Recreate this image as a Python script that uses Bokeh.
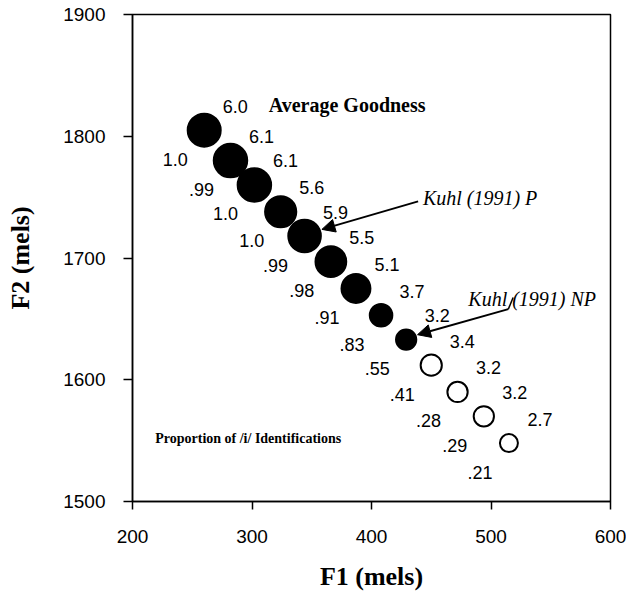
from bokeh.plotting import figure
from bokeh.models import Label, Arrow, NormalHead, FixedTicker, Range1d, ColumnDataSource
from bokeh.core.properties import value
from bokeh.embed import file_html
from bokeh.resources import INLINE

# ---- data ----
f1_mels = [260, 282, 302, 324, 344, 366, 387, 408, 429, 450, 472, 494, 515]
f2_mels = [1805, 1780, 1760, 1738, 1718, 1697, 1675, 1653, 1633, 1612, 1590, 1570, 1548]
goodness = [6.0, 6.1, 6.1, 5.6, 5.9, 5.5, 5.1, 3.7, 3.2, 3.4, 3.2, 3.2, 2.7]
goodness_labels = ["6.0", "6.1", "6.1", "5.6", "5.9", "5.5", "5.1", "3.7", "3.2", "3.4", "3.2", "3.2", "2.7"]
proportion = [1.0, 0.99, 1.0, 1.0, 0.99, 0.98, 0.91, 0.83, 0.55, 0.41, 0.28, 0.29, 0.21]
proportion_labels = ["1.0", ".99", "1.0", "1.0", ".99", ".98", ".91", ".83", ".55", ".41", ".28", ".29", ".21"]
x_ticks = [200, 300, 400, 500, 600]
y_ticks = [1500, 1600, 1700, 1800, 1900]

# marker diameter scales with goodness; filled = identified as /i/ more than half the time
sizes = [18 + (g - 2.7) * 4.55 for g in goodness]
fills = ["black" if pr > 0.5 else "white" for pr in proportion]

src = ColumnDataSource(dict(x=f1_mels, y=f2_mels, size=sizes, fill=fills,
                            glab=goodness_labels, plab=proportion_labels))

p = figure(width=626, height=596, x_range=Range1d(200, 600), y_range=Range1d(1500, 1900),
           output_backend="svg", toolbar_location=None,
           min_border_left=132, min_border_right=16, min_border_top=14, min_border_bottom=95)

p.background_fill_color = "white"
p.border_fill_color = "white"
p.grid.visible = False
p.outline_line_color = "black"
p.outline_line_width = 1.5
p.outline_line_alpha = 1.0

for ax in (p.xaxis[0], p.yaxis[0]):
    ax.axis_line_color = "black"
    ax.axis_line_width = 1.5
    ax.major_tick_line_color = "black"
    ax.major_tick_line_width = 1.5
    ax.major_tick_in = 0
    ax.minor_tick_line_color = None
    ax.major_label_text_font = "Liberation Sans"
    ax.major_label_text_font_size = "19px"
    ax.major_label_text_color = "black"
    ax.axis_label_text_font = "Liberation Serif"
    ax.axis_label_text_font_style = "bold"
    ax.axis_label_text_font_size = "26px"
    ax.axis_label_text_color = "black"

p.xaxis.ticker = FixedTicker(ticks=x_ticks)
p.yaxis.ticker = FixedTicker(ticks=y_ticks)
p.xaxis.major_tick_out = 8
p.yaxis.major_tick_out = 9
p.xaxis.major_label_standoff = 20
p.yaxis.major_label_standoff = 18
p.xaxis.axis_label = "F1 (mels)"
p.yaxis.axis_label = "F2 (mels)"
p.xaxis.axis_label_standoff = 16
p.yaxis.axis_label_standoff = 25

# points
p.scatter("x", "y", source=src, size="size", fill_color="fill", line_color="black",
          line_width=2)

# value labels
p.text("x", "y", text="glab", source=src, x_offset=31, y_offset=-24,
       text_font=value("Liberation Sans"), text_font_size="18px",
       text_align="center", text_baseline="middle", text_color="black")
p.text("x", "y", text="plab", source=src, x_offset=-29, y_offset=29,
       text_font=value("Liberation Sans"), text_font_size="18px",
       text_align="center", text_baseline="middle", text_color="black")

# annotations
p.add_layout(Label(x=314, y=1826, text="Average Goodness", text_font="Liberation Serif",
                   text_font_style="bold", text_font_size="20px", text_align="left",
                   text_baseline="middle", text_color="black"))
p.add_layout(Label(x=219, y=1552, text="Proportion of /i/ Identifications",
                   text_font="Liberation Serif", text_font_style="bold", text_font_size="14px",
                   text_align="left", text_baseline="middle", text_color="black"))
p.add_layout(Label(x=443, y=1749, text="Kuhl (1991) P", text_font="Liberation Serif",
                   text_font_style="italic", text_font_size="20px", text_align="left",
                   text_baseline="middle", text_color="black"))
p.add_layout(Label(x=481, y=1666, text="Kuhl (1991) NP", text_font="Liberation Serif",
                   text_font_style="italic", text_font_size="20px", text_align="left",
                   text_baseline="middle", text_color="black"))

p_idx, np_idx = 4, 8
p.add_layout(Arrow(end=NormalHead(size=13, fill_color="black", line_color="black"),
                   x_start=439, y_start=1746.5,
                   x_end=f1_mels[p_idx] + 14.5, y_end=f2_mels[p_idx] + 5.5,
                   line_color="black", line_width=2))
p.add_layout(Arrow(end=NormalHead(size=13, fill_color="black", line_color="black"),
                   x_start=514.5, y_start=1658,
                   x_end=f1_mels[np_idx] + 9.5, y_end=f2_mels[np_idx] + 4,
                   line_color="black", line_width=2))
p.add_layout(Arrow(end=None, x_start=518.5, y_start=1667.5, x_end=514.5, y_end=1658,
                   line_color="black", line_width=1.5))

open("out.html", "w").write(file_html(p, INLINE))
